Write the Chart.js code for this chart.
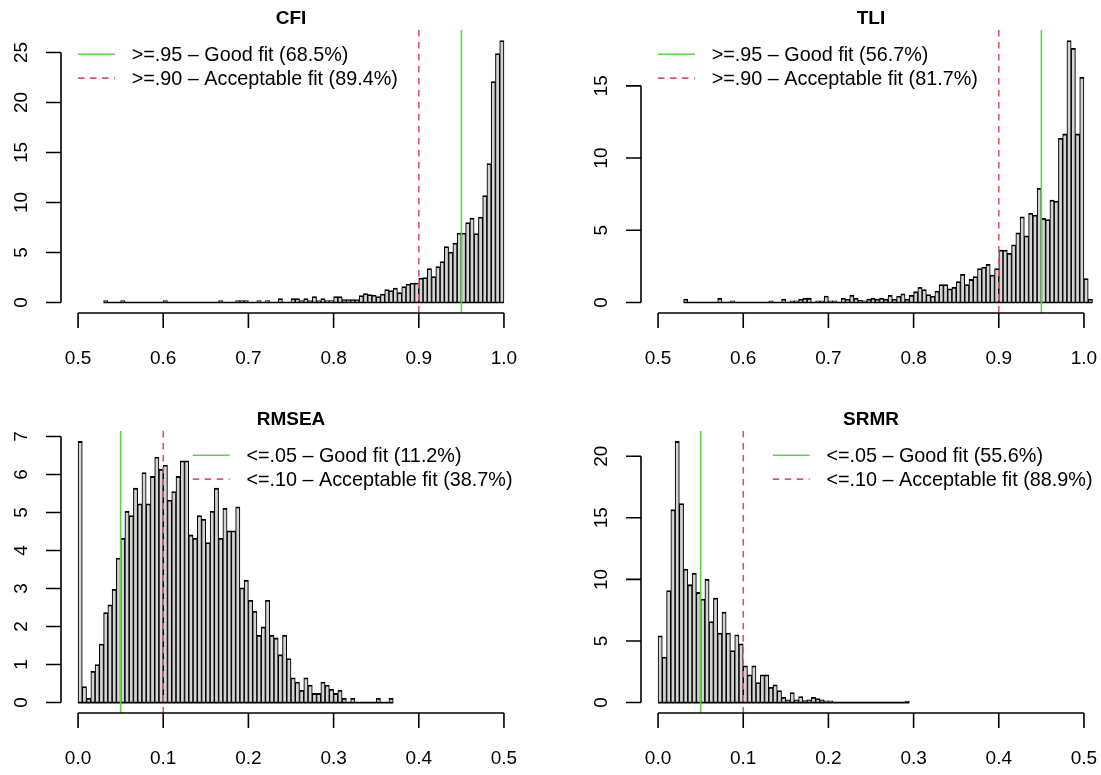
<!DOCTYPE html>
<html><head><meta charset="utf-8">
<script src="https://cdn.jsdelivr.net/npm/chart.js@4.4.1/dist/chart.umd.min.js"></script>
<style>
html,body{margin:0;padding:0;background:#fff;}
#wrap{position:relative;width:1101px;height:775px;overflow:hidden;background:#fff;}
canvas{position:absolute;}
</style></head><body>
<div id="wrap">
<canvas id="cfi" width="550" height="388" style="left:0px;top:0px"></canvas>
<canvas id="tli" width="551" height="388" style="left:550px;top:0px"></canvas>
<canvas id="rmsea" width="550" height="387" style="left:0px;top:388px"></canvas>
<canvas id="srmr" width="551" height="387" style="left:550px;top:388px"></canvas>
</div>
<script>
// ---- data (histogram densities, bin width 0.005) ----
const binWidth = 0.005;

const cfiFirstBreak = 0.53;
const cfiDensity = [
 0.2,0,0,0,0.2,0,0,0,0,0,
 0,0,0,0,0.2,0,0,0,0,0,
 0,0,0,0,0,0,0,0.2,0,0,
 0,0.2,0.2,0.2,0,0,0.2,0,0.2,0,
 0,0.4,0,0,0.4,0.4,0.2,0.4,0.2,0.6,
 0.2,0.4,0.2,0.2,0.6,0.6,0.3,0.3,0.3,0.3,
 0.7,0.9,0.8,0.75,0.6,0.85,1.3,1.2,1.45,1.0,
 1.6,1.85,1.95,1.95,2.45,2.5,3.4,2.6,3.6,4.1,
 5.6,5.05,5.95,6.95,6.95,8.0,8.45,6.9,8.55,10.7,
 13.9,22.1,24.9,26.2
];

const tliFirstBreak = 0.53;
const tliDensity = [
 0.23,0,0,0,0,0,0,0,0.3,0,
 0,0.12,0,0,0,0,0,0,0,0,
 0.12,0,0,0.23,0,0.12,0.12,0.23,0.3,0.3,
 0,0.12,0.12,0.45,0.12,0.12,0,0.3,0.23,0.5,
 0.3,0.15,0.12,0.23,0.3,0.23,0.3,0.23,0.5,0.23,
 0.45,0.6,0.23,0.5,0.75,1.05,0.9,0.55,0.45,0.8,
 1.25,1.25,0.95,1.05,1.45,1.95,1.25,1.6,1.8,2.35,
 2.45,2.65,1.9,2.35,3.63,3.63,3.4,4.0,4.83,5.94,
 4.62,6.17,6.05,7.9,5.82,5.75,7.1,7.03,11.37,11.67,
 18.14,17.6,11.67,15.6,1.66,0.23
];

const rmseaFirstBreak = 0.0;
const rmseaDensity = [
 6.87,0.42,0.11,0.82,1.0,1.54,2.37,2.57,2.98,3.8,
 4.32,5.03,4.92,5.64,5.23,6.05,5.23,5.95,6.46,6.14,
 6.25,5.33,5.55,5.95,6.36,6.36,4.41,4.32,4.92,4.82,
 4.21,5.03,5.64,4.32,5.11,4.52,4.52,5.15,3.02,3.22,
 2.69,2.4,1.77,1.99,2.69,1.77,1.7,1.26,1.77,1.16,
 0.65,0.54,0.32,0.65,0.46,0.24,0.24,0.54,0.46,0.35,
 0.24,0.32,0.11,0,0.11,0,0,0,0,0,
 0.11,0,0,0.11
];

const srmrFirstBreak = 0.0;
const srmrDensity = [
 5.42,3.69,9.1,15.66,21.2,16.15,10.84,9.57,10.5,8.94,
 8.4,10.0,6.58,8.48,5.64,7.34,5.64,4.23,5.5,4.77,
 2.98,2.25,2.98,1.63,2.25,2.25,1.25,1.44,0.98,0.43,
 0.22,0.81,0.22,0.49,0.16,0.22,0.43,0.33,0.22,0.14,
 0.14,0,0,0,0,0,0,0,0,0,
 0,0,0,0,0,0,0,0,0.12
];

// ---- axes / ticks ----
const topXLimits = [0.48, 1.02];
const bottomXLimits = [-0.02, 0.52];
const topXTicks = [0.5, 0.6, 0.7, 0.8, 0.9, 1.0];
const bottomXTicks = [0.0, 0.1, 0.2, 0.3, 0.4, 0.5];
const cfiYTicks = [0, 5, 10, 15, 20, 25];
const tliYTicks = [0, 5, 10, 15];
const rmseaYTicks = [0, 1, 2, 3, 4, 5, 6, 7];
const srmrYTicks = [0, 5, 10, 15, 20];

// ---- cutoffs (good, acceptable) and legend texts ----
const cfiCutoffs = [0.95, 0.90];
const tliCutoffs = [0.95, 0.90];
const rmseaCutoffs = [0.05, 0.10];
const srmrCutoffs = [0.05, 0.10];
const cfiLegend = ['>=.95 \u2013 Good fit (68.5%)', '>=.90 \u2013 Acceptable fit (89.4%)'];
const tliLegend = ['>=.95 \u2013 Good fit (56.7%)', '>=.90 \u2013 Acceptable fit (81.7%)'];
const rmseaLegend = ['<=.05 \u2013 Good fit (11.2%)', '<=.10 \u2013 Acceptable fit (38.7%)'];
const srmrLegend = ['<=.05 \u2013 Good fit (55.6%)', '<=.10 \u2013 Acceptable fit (88.9%)'];

// ---- rendering ----
const FONT = '"Liberation Sans", Arimo, Arial, Helvetica, sans-serif';
const GREEN = '#61D04F', RED = '#DF536B';
const LINE_STYLES = [{c: GREEN, d: []}, {c: RED, d: [6.5, 5.5]}];

const rPanel = {
  id: 'rPanel',
  afterDatasetsDraw(chart, _args, o) {
    const ctx = chart.ctx, xs = chart.scales.x, ys = chart.scales.y, ca = chart.chartArea;
    ctx.save();
    ctx.lineCap = 'butt';
    // histogram baseline (bottom edges of all bins)
    const y0 = ys.getPixelForValue(0);
    ctx.strokeStyle = '#000'; ctx.lineWidth = 1.7;
    ctx.beginPath();
    ctx.moveTo(xs.getPixelForValue(o.firstBreak), y0);
    ctx.lineTo(xs.getPixelForValue(o.lastBreak), y0);
    ctx.stroke();
    // cutoff lines
    o.cutoffs.forEach((v, i) => {
      const x = xs.getPixelForValue(v);
      ctx.strokeStyle = LINE_STYLES[i].c; ctx.setLineDash(LINE_STYLES[i].d); ctx.lineWidth = 1.6;
      ctx.beginPath(); ctx.moveTo(x, ca.top); ctx.lineTo(x, ca.bottom); ctx.stroke();
    });
    ctx.setLineDash([]);
    // x axis
    ctx.strokeStyle = '#000'; ctx.lineWidth = 1.6;
    const xt = o.xTicks.map(v => xs.getPixelForValue(v));
    const yb = ca.bottom;
    ctx.beginPath();
    ctx.moveTo(xt[0], yb); ctx.lineTo(xt[xt.length - 1], yb);
    xt.forEach(x => { ctx.moveTo(x, yb); ctx.lineTo(x, yb + 15); });
    ctx.stroke();
    ctx.fillStyle = '#000'; ctx.font = '19px ' + FONT; ctx.textAlign = 'center'; ctx.textBaseline = 'alphabetic';
    o.xTicks.forEach((v, i) => ctx.fillText(v.toFixed(1), xt[i], yb + 51));
    // y axis
    const yt = o.yTicks.map(v => ys.getPixelForValue(v));
    const xl = ca.left;
    ctx.beginPath();
    ctx.moveTo(xl, yt[0]); ctx.lineTo(xl, yt[yt.length - 1]);
    yt.forEach(y => { ctx.moveTo(xl, y); ctx.lineTo(xl - 15, y); });
    ctx.stroke();
    o.yTicks.forEach((v, i) => {
      ctx.save(); ctx.translate(xl - 34, yt[i]); ctx.rotate(-Math.PI / 2);
      ctx.fillText(String(v), 0, 0); ctx.restore();
    });
    // title
    ctx.font = 'bold 19px ' + FONT;
    ctx.fillText(o.title, (ca.left + ca.right) / 2, ca.top - 13.5 + 7);
    // legend
    ctx.font = '19.8px ' + FONT; ctx.textAlign = 'left';
    const widths = o.legend.map(t => ctx.measureText(t).width);
    const textX = o.legendPos === 'topleft' ? ca.left + 70.7 : ca.right - 8.5 - Math.max(...widths);
    o.legend.forEach((t, i) => {
      const y = ca.top + 24.3 + i * 23.8;
      ctx.strokeStyle = LINE_STYLES[i].c; ctx.setLineDash(LINE_STYLES[i].d); ctx.lineWidth = 1.6;
      ctx.beginPath(); ctx.moveTo(textX - 53.7, y); ctx.lineTo(textX - 16.7, y); ctx.stroke();
      ctx.setLineDash([]);
      ctx.fillText(t, textX, y + 7);
    });
    ctx.restore();
  }
};

function makePanel(id, title, firstBreak, density, xLimits, xTicks, yTicks, cutoffs, legend, legendPos, padding) {
  const points = density.map((d, i) => ({x: firstBreak + (i + 0.5) * binWidth, y: d}));
  const ymax = Math.max(...density);
  new Chart(document.getElementById(id), {
    type: 'bar',
    data: {datasets: [{
      data: points,
      backgroundColor: '#D3D3D3',
      borderColor: '#000000',
      borderWidth: {top: 1.8, left: 1.1, right: 1.1, bottom: 0},
      borderSkipped: 'start',
      barPercentage: 1,
      categoryPercentage: 1
    }]},
    options: {
      responsive: false, animation: false, devicePixelRatio: 1,
      layout: {padding: padding},
      scales: {
        x: {type: 'linear', display: false, offset: false, min: xLimits[0], max: xLimits[1]},
        y: {type: 'linear', display: false, min: -0.04 * ymax, max: 1.04 * ymax}
      },
      plugins: {
        legend: {display: false}, tooltip: {enabled: false}, title: {display: false},
        rPanel: {title, firstBreak, lastBreak: firstBreak + density.length * binWidth,
                 xTicks, yTicks, cutoffs, legend, legendPos}
      }
    },
    plugins: [rPanel]
  });
}

makePanel('cfi', 'CFI', cfiFirstBreak, cfiDensity, topXLimits, topXTicks, cfiYTicks, cfiCutoffs, cfiLegend, 'topleft',
  {left: 61, right: 29, top: 30, bottom: 75});
makePanel('tli', 'TLI', tliFirstBreak, tliDensity, topXLimits, topXTicks, tliYTicks, tliCutoffs, tliLegend, 'topleft',
  {left: 91, right: 0, top: 30, bottom: 75});
makePanel('rmsea', 'RMSEA', rmseaFirstBreak, rmseaDensity, bottomXLimits, bottomXTicks, rmseaYTicks, rmseaCutoffs, rmseaLegend, 'topright',
  {left: 61, right: 29, top: 43, bottom: 62});
makePanel('srmr', 'SRMR', srmrFirstBreak, srmrDensity, bottomXLimits, bottomXTicks, srmrYTicks, srmrCutoffs, srmrLegend, 'topright',
  {left: 91, right: 0, top: 43, bottom: 62});
</script>
</body></html>
